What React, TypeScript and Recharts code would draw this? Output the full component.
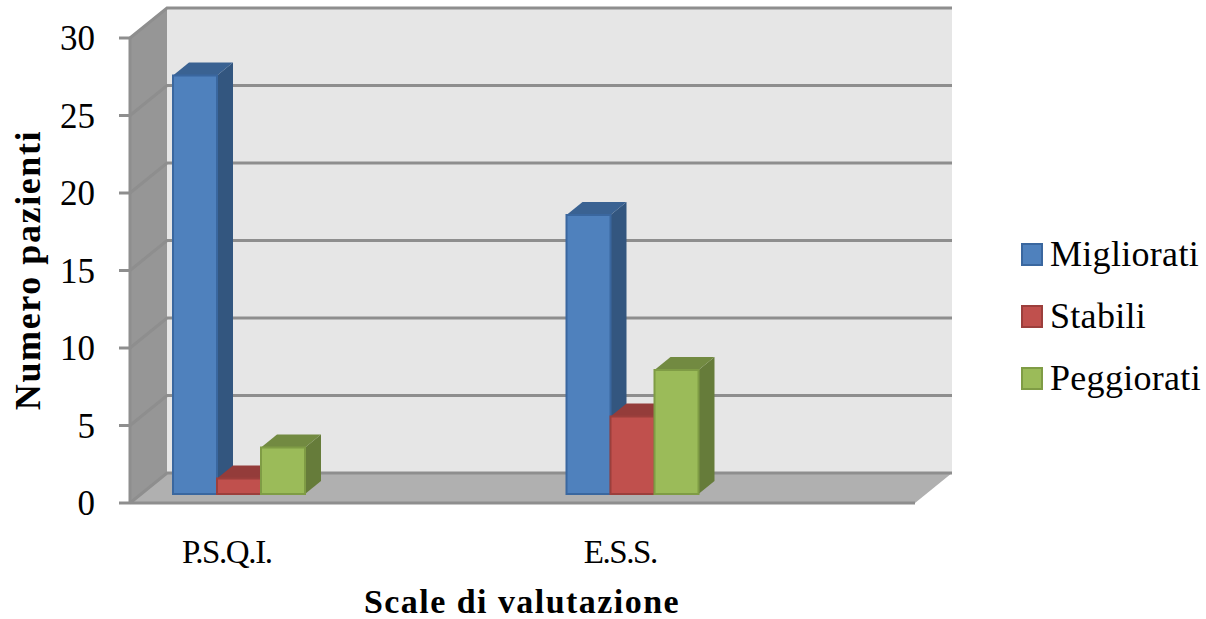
import React from 'react';
import { BarChart, Bar, XAxis, YAxis, CartesianGrid, Legend } from 'recharts';

const scale = ['P.S.Q.I.', 'E.S.S.'];
const migliorati = [27, 18];
const stabili = [1, 5];
const peggiorati = [3, 8];
const yTicks = [0, 5, 10, 15, 20, 25, 30];

const data = scale.map((name, i) => ({
  name,
  migliorati: migliorati[i],
  stabili: stabili[i],
  peggiorati: peggiorati[i],
}));

const FONT = '"Liberation Serif", serif';

// depth of the box: back wall sits up and to the right of the front plane
const WALL_DX = 37;
const WALL_DY = 30;
const FLOOR_LIFT = 9;
const BAR_DX = 16;
const BAR_DY = 13;
const GRID_COLOR = '#8e8e8e';

const BLUE = { front: '#4f81bd', side: '#33567f', top: '#3a6292', edge: '#3a679f' };
const RED = { front: '#c0504d', side: '#8f3a38', top: '#943c3a', edge: '#9c3f3c' };
const GREEN = { front: '#9bbb59', side: '#667c3a', top: '#728a41', edge: '#7f9c45' };

type Shade = typeof BLUE;

const makeBlock = (shade: Shade) => (props: any) => {
  const { x, y, width, height } = props;
  const top = y - FLOOR_LIFT;
  const bottom = top + height;
  const right = x + width;
  return (
    <g>
      <polygon
        points={`${right},${top} ${right + BAR_DX},${top - BAR_DY} ${right + BAR_DX},${bottom - BAR_DY} ${right},${bottom}`}
        fill={shade.side}
      />
      <polygon
        points={`${x},${top} ${x + BAR_DX},${top - BAR_DY} ${right + BAR_DX},${top - BAR_DY} ${right},${top}`}
        fill={shade.top}
      />
      <rect x={x} y={top} width={width} height={height} fill={shade.front} stroke={shade.edge} strokeWidth={2} />
    </g>
  );
};

const WallLine = (props: any) => {
  const { x1, x2, y1 } = props;
  return (
    <path
      key={`wall-${y1}`}
      d={`M${x1},${y1} L${x1 + WALL_DX},${y1 - WALL_DY} L${x2 + WALL_DX},${y1 - WALL_DY}`}
      fill="none"
      stroke={GRID_COLOR}
      strokeWidth={3}
    />
  );
};

const YTick = ({ x, y, payload }: any) => (
  <g>
    <line x1={119} x2={130} y1={y} y2={y} stroke={GRID_COLOR} strokeWidth={3} />
    <text x={x + 6} y={y + 12} textAnchor="end" fontFamily={FONT} fontSize={35} fill="#000">
      {payload.value}
    </text>
  </g>
);

const XTick = ({ x, payload }: any) => (
  <text x={x - 12} y={563} textAnchor="middle" fontFamily={FONT} fontSize={33} letterSpacing={-1.4} fill="#000">
    {payload.value}
  </text>
);

const LegendList = ({ payload }: any) => (
  <div style={{ fontFamily: FONT, fontSize: 36, letterSpacing: 0.3, color: '#000' }}>
    {payload.map((item: any) => (
      <div key={item.value} style={{ display: 'flex', alignItems: 'center', height: 62 }}>
        <span
          style={{
            width: 18,
            height: 19,
            background: item.color,
            border: `2px solid ${item.payload.stroke}`,
            marginRight: 7,
          }}
        />
        {item.value}
      </div>
    ))}
  </div>
);

export default function App() {
  return (
    <div style={{ position: 'absolute', left: 0, top: 0, width: 1206, height: 619 }}>
      {/* walls and floor of the 3D box, painted behind the chart */}
      <svg width={1206} height={619} style={{ position: 'absolute', left: 0, top: 0 }}>
        <polygon points="167,8 952,8 952,473 167,473" fill="#e6e6e6" />
        <polygon points="130,38 167,8 167,473 130,503" fill="#969696" />
        <polygon points="130,503 167,473 952,473 915,503" fill="#b0b0b0" />
      </svg>
      <div style={{ position: 'absolute', left: 0, top: 0 }}>
        <BarChart
          width={1206}
          height={619}
          data={data}
          margin={{ top: 38, right: 291, bottom: 0, left: 0 }}
          barSize={44}
          barGap={0}
        >
          <CartesianGrid vertical={false} horizontal={(p: any) => <WallLine {...p} />} />
          <XAxis
            dataKey="name"
            height={116}
            padding={{ left: -88, right: 86 }}
            axisLine={{ stroke: GRID_COLOR, strokeWidth: 3 }}
            tickLine={false}
            tick={<XTick />}
            label={{
              content: () => (
                <text
                  x={522}
                  y={613}
                  textAnchor="middle"
                  fontFamily={FONT}
                  fontSize={34}
                  fontWeight="bold"
                  letterSpacing={1.45}
                  fill="#000"
                >
                  Scale di valutazione
                </text>
              ),
            }}
          />
          <YAxis
            width={130}
            domain={[0, 30]}
            ticks={yTicks}
            interval={0}
            axisLine={{ stroke: GRID_COLOR, strokeWidth: 3 }}
            tickLine={false}
            tickMargin={35}
            tick={<YTick />}
            label={{
              content: () => (
                <text
                  transform="translate(40,270) rotate(-90)"
                  textAnchor="middle"
                  fontFamily={FONT}
                  fontSize={36}
                  fontWeight="bold"
                  letterSpacing={1.6}
                  fill="#000"
                >
                  Numero pazienti
                </text>
              ),
            }}
          />
          <Legend
            layout="vertical"
            align="center"
            verticalAlign="middle"
            itemSorter={null}
            wrapperStyle={{ left: 1021, top: 223, width: 185 }}
            content={<LegendList />}
          />
          <Bar dataKey="migliorati" name="Migliorati" fill={BLUE.front} stroke={BLUE.edge} shape={makeBlock(BLUE)} isAnimationActive={false} />
          <Bar dataKey="stabili" name="Stabili" fill={RED.front} stroke={RED.edge} shape={makeBlock(RED)} isAnimationActive={false} />
          <Bar dataKey="peggiorati" name="Peggiorati" fill={GREEN.front} stroke={GREEN.edge} shape={makeBlock(GREEN)} isAnimationActive={false} />
        </BarChart>
      </div>
    </div>
  );
}
